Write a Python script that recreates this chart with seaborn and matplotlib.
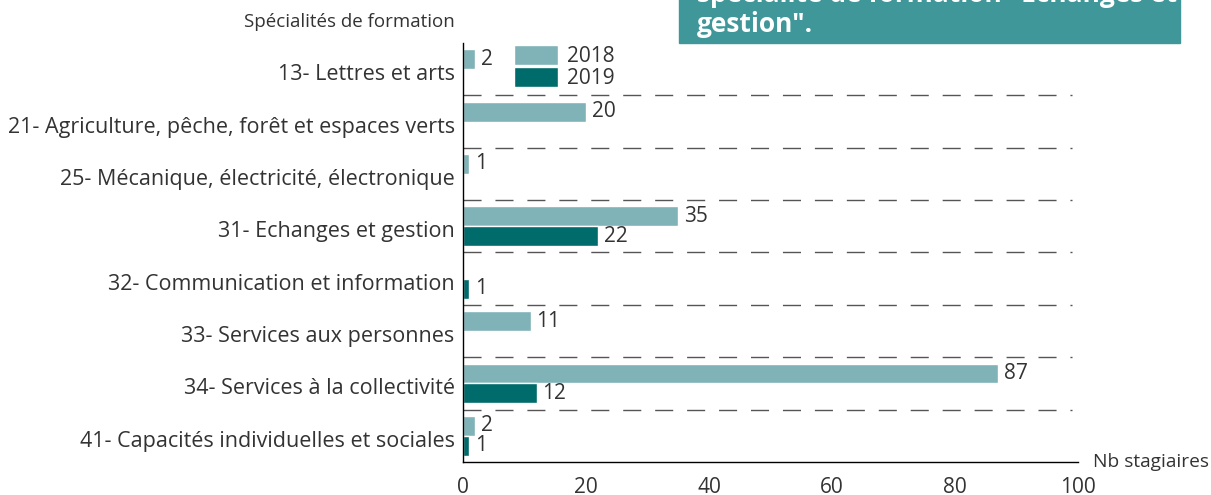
import matplotlib
matplotlib.use("Agg")
import matplotlib.pyplot as plt
import matplotlib.transforms as mtransforms
import seaborn as sns
import numpy as np
import pandas as pd

# data
categories = [
    "13- Lettres et arts",
    "21- Agriculture, pêche, forêt et espaces verts",
    "25- Mécanique, électricité, électronique",
    "31- Echanges et gestion",
    "32- Communication et information",
    "33- Services aux personnes",
    "34- Services à la collectivité",
    "41- Capacités individuelles et sociales",
]
values_2018 = [2, 20, 1, 35, np.nan, 11, 87, 2]
values_2019 = [np.nan, np.nan, np.nan, 22, 1, np.nan, 12, 1]
years = ["2018", "2019"]
xticks = [0, 20, 40, 60, 80, 100]

df = pd.DataFrame({
    "spec": categories * 2,
    "annee": [years[0]] * len(categories) + [years[1]] * len(categories),
    "nb": values_2018 + values_2019,
})

sns.set_style("white")
plt.rcParams["font.family"] = ["Open Sans", "DejaVu Sans"]
text_color = "#333333"
fs = 15

fig = plt.figure(figsize=(12.11, 4.95), dpi=100)
ax = fig.add_axes([0.3823, 0.0667, 0.5079, 0.8465])

palette = {"2018": "#7fb3b8", "2019": "#006b6b"}
sns.barplot(data=df, y="spec", x="nb", hue="annee", order=categories,
            hue_order=years, palette=palette, orient="h", width=0.76,
            ax=ax, saturation=1)

# value labels
for cont in ax.containers:
    labels = ["" if (np.isnan(w) or w == 0) else f"{w:.0f}" for w in cont.datavalues]
    ax.bar_label(cont, labels=labels, padding=4, fontsize=fs, color=text_color)

# dashed separators between categories
for i in range(len(categories) - 1):
    ax.axhline(i + 0.5, xmin=0, xmax=0.99, color="#555555", lw=1,
               linestyle=(0, (13, 10)))

ax.set_xlim(0, 100)
ax.set_ylim(len(categories) - 0.5, -0.5)
ax.set_xticks(xticks)
ax.tick_params(axis="x", direction="in", length=7, width=1, color="black",
               labelsize=fs, labelcolor=text_color, pad=11)
ax.tick_params(axis="y", length=0, labelsize=15.5, labelcolor=text_color, pad=6)
# category labels sit a little below the bar pair centre
shift = mtransforms.ScaledTranslation(0, -3 / 100, fig.dpi_scale_trans)
for lbl in ax.get_yticklabels():
    lbl.set_transform(lbl.get_transform() + shift)
ax.set_xlabel("")
ax.set_ylabel("")
for s in ["top", "right"]:
    ax.spines[s].set_visible(False)
for s in ["left", "bottom"]:
    ax.spines[s].set_color("black")
    ax.spines[s].set_linewidth(1)

ax.text(1.024, 0.0, "Nb stagiaires", transform=ax.transAxes, fontsize=13.8,
        color=text_color, va="center", ha="left")
fig.text(455 / 1211, 1 - 22 / 495, "Spécialités de formation", fontsize=13.5,
         color=text_color, ha="right", va="center")

# legend
leg = ax.legend(loc="upper left", bbox_to_anchor=(0.066, 1.02), frameon=False,
                fontsize=fs, handlelength=2.1, handleheight=1.1,
                labelspacing=0.0, handletextpad=0.45, borderpad=0)
for t in leg.get_texts():
    t.set_color(text_color)

# teal note box at the top right (cut off by the figure edge)
fig.patches.append(plt.Rectangle((679 / 1211, 1 - 43 / 495), 501 / 1211, 60 / 495,
                                 transform=fig.transFigure, color="#40979a",
                                 zorder=5))
fig.text(697 / 1211, 1 - 2 / 495, "spécialité de formation \"Echanges et",
         color="white", fontsize=19, fontweight="bold", ha="left",
         va="baseline", zorder=6)
fig.text(697 / 1211, 1 - 32 / 495, "gestion\".",
         color="white", fontsize=19, fontweight="bold", ha="left",
         va="baseline", zorder=6)

fig.savefig("out.png", dpi=100)
